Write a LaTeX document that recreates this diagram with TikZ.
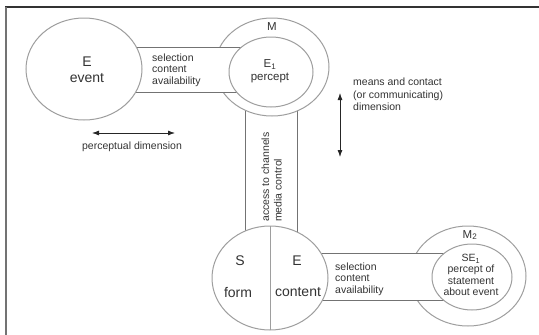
\documentclass[tikz,border=0pt]{standalone}
\usepackage{fontspec}
\setmainfont{Liberation Sans}
\usetikzlibrary{shapes.geometric,arrows.meta}

\begin{document}
\begin{tikzpicture}[x=1pt,y=-1pt,
  ring/.style={ellipse, draw=black!38, line width=1pt, inner sep=0pt, outer sep=0pt},
  wring/.style={ring, fill=white},
  band/.style={draw=black!55, line width=0.9pt},
  small/.style={font=\fontsize{10.5}{11.5}\selectfont, text=black!80, inner sep=0pt},
  mid/.style={font=\fontsize{11.5}{13}\selectfont, text=black!80, inner sep=0pt},
  big/.style={font=\fontsize{14}{16}\selectfont, text=black!80, inner sep=0pt},
  dimarrow/.style={{Latex[length=7pt,width=5pt]}-{Latex[length=7pt,width=5pt]},
                   line width=0.8pt, draw=black!85},
]
\useasboundingbox (0,0) rectangle (539,335);

% frame (top and left edges)
\coordinate (fa) at (5,7);
\coordinate (fb) at (539,7);
\coordinate (fc) at (6,7);
\coordinate (fd) at (6,335);
\draw[black!80, line width=1.3pt] (fa) -- (fb);
\draw[black!55, line width=2pt] (fc) -- (fd);

% centres of the circles
\coordinate (cE)  at (84,69);
\coordinate (cM)  at (272,67);
\coordinate (cMi) at (271,72);
\coordinate (cS)  at (270,278);
\coordinate (cN)  at (468,276);
\coordinate (cNi) at (472,277);

% vertical channel between M and the sign
\coordinate (vt1) at (245,67);  \coordinate (vb1) at (245,278);
\coordinate (vt2) at (297,67);  \coordinate (vb2) at (297,278);
\draw[band] (vt1) -- (vb1) (vt2) -- (vb2);

% M (outer ring)
\node[wring, minimum width=114pt, minimum height=98pt] (Mo) at (cM) {};

% channel between event and percept
\coordinate (ht1) at (84,47);  \coordinate (ht2) at (271,47);
\coordinate (hb1) at (84,92);  \coordinate (hb2) at (271,92);
\fill[white] (ht1) rectangle (hb2);
\draw[band] (ht1) -- (ht2) (hb1) -- (hb2);

% event and percept
\node[wring, minimum width=116pt, minimum height=102pt] (E) at (cE) {};
\node[wring, minimum width=84pt, minimum height=70pt] (Mi) at (cMi) {};

% M2 (outer ring)
\node[ring, minimum width=116pt, minimum height=100pt] (No) at (cN) {};

% channel between sign and second percept
\coordinate (bt1) at (270,253);  \coordinate (bt2) at (472,253);
\coordinate (bb1) at (270,300);  \coordinate (bb2) at (472,300);
\fill[white] (bt1) rectangle (bb2);
\draw[band] (bt1) -- (bt2) (bb1) -- (bb2);

% sign (form | content) and second percept
\node[wring, minimum width=116pt, minimum height=104pt] (S) at (cS) {};
\draw[ring] (S.north) -- (S.south);
\node[wring, minimum width=80pt, minimum height=66pt] (Ni) at (cNi) {};

% labels
\node[big] (tE) at (87,62) {E};
\node[big] (tEv) at (87,78) {event};
\node[small, align=left, anchor=west] (tsel1) at (152,70) {selection\\content\\availability};
\node[mid] (tM) at (272,27) {M};
\node[mid, align=center] (tE1) at (270,71.5) {E\textsubscript{1}\\percept};

\node[big] (tS) at (240,261) {S};
\node[big] (tform) at (238,292) {form};
\node[big] (tE2) at (297,261) {E};
\node[big] (tcont) at (298,292) {content};

\node[small, align=left, anchor=west] (tsel2) at (335,279) {selection\\content\\availability};
\node[mid] (tM2) at (470,235) {M\textsubscript{2}};
\node[small, align=center] (tSE) at (471,275) {SE\textsubscript{1}\\percept of\\statement\\about event};

\node[font=\fontsize{10.5}{12.5}\selectfont, text=black!80, inner sep=0pt,
      rotate=90, align=left, anchor=west] (tacc) at (271.5,222) {access to channels\\media control};

% dimensions
\coordinate (pa1) at (92,133);
\coordinate (pa2) at (175,133);
\draw[dimarrow] (pa1) -- (pa2);
\node[small] (tperc) at (132,147) {perceptual dimension};

\coordinate (ma1) at (340,93);
\coordinate (ma2) at (340,157);
\draw[dimarrow] (ma1) -- (ma2);
\node[font=\fontsize{10.5}{12.5}\selectfont, text=black!80, inner sep=0pt,
      align=left, anchor=west] (tmeans) at (353,94.5) {means and contact\\(or communicating)\\dimension};
\end{tikzpicture}
\end{document}
